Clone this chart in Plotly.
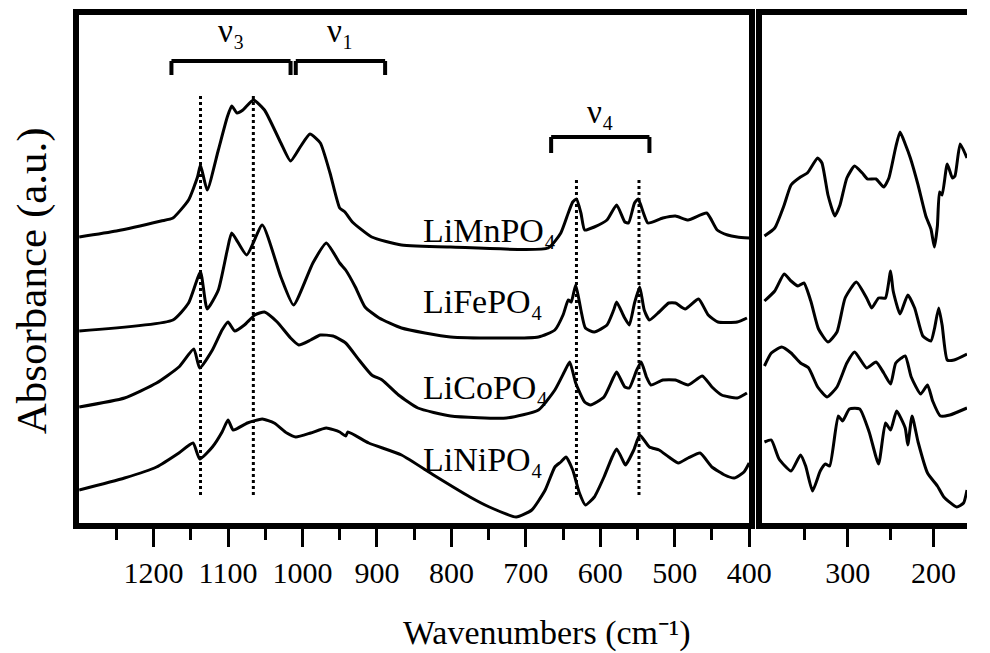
import plotly.graph_objects as go

# ---------------- data ----------------
# Mid-IR panel (1300-400 cm-1)
mn_mid_wn = [1300, 1250, 1190, 1174, 1153, 1141, 1137, 1128, 1113, 1101, 1095, 1088, 1080, 1066, 1051, 1029, 1016, 1003, 990, 976, 963, 950, 943, 933, 907, 867, 801, 670, 653, 643, 637, 632, 626, 621, 608, 591, 578, 567, 562, 554, 549, 542, 536, 516, 499, 482, 457, 443, 429, 416, 400]
mn_mid_ab = [2.86, 2.92, 3.02, 3.05, 3.23, 3.46, 3.58, 3.33, 3.73, 4.06, 4.17, 4.10, 4.13, 4.23, 4.13, 3.80, 3.62, 3.76, 3.89, 3.80, 3.50, 3.15, 3.11, 3.01, 2.86, 2.78, 2.76, 2.75, 2.90, 3.10, 3.21, 3.24, 3.10, 2.93, 2.96, 3.03, 3.18, 3.01, 3.00, 3.20, 3.24, 3.10, 3.00, 3.05, 3.07, 3.03, 3.10, 2.93, 2.88, 2.86, 2.85]

fe_mid_wn = [1300, 1174, 1153, 1137, 1128, 1113, 1101, 1095, 1075, 1054, 1029, 1012, 986, 968, 950, 942, 929, 916, 897, 867, 801, 683, 661, 650, 643, 639, 633, 626, 620, 608, 591, 582, 578, 568, 561, 554, 547, 541, 534, 521, 508, 499, 486, 468, 455, 442, 416, 403]
fe_mid_ab = [1.92, 2.03, 2.20, 2.51, 2.14, 2.33, 2.73, 2.90, 2.68, 2.98, 2.46, 2.18, 2.60, 2.80, 2.60, 2.53, 2.36, 2.16, 2.05, 1.95, 1.86, 1.86, 1.93, 2.08, 2.23, 2.21, 2.38, 2.13, 1.95, 1.91, 1.98, 2.13, 2.21, 2.06, 1.98, 2.20, 2.36, 2.13, 2.03, 2.11, 2.20, 2.20, 2.14, 2.24, 2.08, 2.01, 2.01, 2.05]

co_mid_wn = [1300, 1239, 1196, 1166, 1146, 1138, 1121, 1108, 1100, 1091, 1078, 1064, 1051, 1034, 1016, 1005, 989, 976, 959, 942, 924, 907, 893, 871, 845, 801, 726, 683, 661, 647, 641, 633, 621, 613, 595, 582, 578, 567, 561, 551, 545, 538, 532, 516, 499, 482, 463, 450, 437, 416, 403]
co_mid_ab = [1.16, 1.25, 1.40, 1.56, 1.74, 1.55, 1.73, 1.93, 2.01, 1.92, 1.98, 2.08, 2.11, 2.01, 1.85, 1.78, 1.83, 1.88, 1.87, 1.80, 1.63, 1.48, 1.43, 1.28, 1.15, 1.07, 1.05, 1.13, 1.33, 1.53, 1.61, 1.40, 1.21, 1.18, 1.26, 1.46, 1.51, 1.36, 1.35, 1.53, 1.61, 1.46, 1.38, 1.43, 1.43, 1.38, 1.47, 1.36, 1.28, 1.25, 1.30]

ni_mid_wn = [1300, 1239, 1196, 1166, 1147, 1138, 1121, 1108, 1100, 1093, 1074, 1054, 1038, 1021, 1009, 989, 968, 950, 942, 939, 911, 867, 824, 775, 749, 713, 692, 674, 661, 653, 646, 637, 628, 620, 608, 595, 584, 578, 568, 566, 555, 547, 534, 521, 508, 495, 482, 466, 450, 433, 420, 407, 400]
ni_mid_ab = [0.33, 0.45, 0.56, 0.70, 0.80, 0.64, 0.76, 0.91, 1.03, 0.93, 1.00, 1.04, 1.00, 0.90, 0.86, 0.90, 0.95, 0.91, 0.87, 0.91, 0.80, 0.68, 0.48, 0.26, 0.16, 0.06, 0.13, 0.33, 0.56, 0.61, 0.66, 0.53, 0.30, 0.18, 0.26, 0.46, 0.66, 0.74, 0.60, 0.58, 0.73, 0.88, 0.76, 0.73, 0.66, 0.60, 0.65, 0.70, 0.56, 0.48, 0.45, 0.51, 0.60]

# Far-IR panel (400-160 cm-1)
mn_far_wn = [397, 385, 374, 366, 355, 347, 335, 330, 323, 315, 309, 301, 292, 283, 277, 267, 258, 252, 244, 239, 233, 227, 218, 209, 203, 199, 195.5, 193, 190, 184, 178, 175, 169, 161]
mn_far_ab = [2.87, 2.95, 3.18, 3.38, 3.46, 3.50, 3.65, 3.60, 3.28, 3.07, 3.18, 3.45, 3.57, 3.50, 3.44, 3.44, 3.36, 3.45, 3.76, 3.91, 3.79, 3.65, 3.38, 3.07, 2.94, 2.76, 2.97, 3.31, 3.28, 3.59, 3.45, 3.47, 3.79, 3.65]

fe_far_wn = [397, 385, 374, 366, 358, 351, 343, 334, 323, 312.5, 303, 290, 278, 272, 264, 256, 250, 247, 239, 230, 222, 212.5, 203, 199, 194, 190, 184, 176, 161]
fe_far_ab = [2.22, 2.32, 2.49, 2.42, 2.37, 2.40, 2.22, 1.94, 1.81, 1.91, 2.25, 2.41, 2.25, 2.15, 2.25, 2.25, 2.52, 2.32, 2.09, 2.28, 2.15, 1.87, 1.82, 1.94, 2.15, 1.98, 1.63, 1.63, 1.69]

co_far_wn = [397, 389, 377, 366, 355, 345.5, 335, 324, 312.5, 301, 292, 278, 267, 258, 250, 244, 233, 226, 215, 207, 201, 192, 181, 161]
co_far_ab = [1.57, 1.70, 1.76, 1.70, 1.60, 1.55, 1.36, 1.26, 1.36, 1.60, 1.71, 1.55, 1.61, 1.50, 1.39, 1.60, 1.67, 1.46, 1.29, 1.38, 1.22, 1.07, 1.08, 1.15]

ni_far_wn = [397, 389, 380, 366, 355, 349, 341, 332, 326, 321, 311, 306, 298, 286, 275, 264, 256, 250, 243, 233, 230, 225, 218, 207, 195.5, 188, 173, 165, 161]
ni_far_ab = [0.81, 0.83, 0.64, 0.52, 0.68, 0.57, 0.32, 0.52, 0.59, 0.57, 1.07, 1.02, 1.14, 1.14, 0.91, 0.59, 1.00, 0.93, 1.12, 0.95, 0.78, 1.07, 0.81, 0.50, 0.37, 0.26, 0.16, 0.20, 0.33]

sample_names = ["LiMnPO₄", "LiFePO₄", "LiCoPO₄", "LiNiPO₄"]
label_levels = [2.93, 2.22, 1.36, 0.64]

mid_major = [1200, 1100, 1000, 900, 800, 700, 600, 500, 400]
mid_minor = [1250, 1150, 1050, 950, 850, 750, 650, 550, 450]
far_major = [300, 200]
far_minor = [350, 250]

# band marker lines: (wavenumber, top, bottom)
band_lines = [(1137, 4.30, 0.28), (1066, 4.30, 0.28), (632, 3.46, 0.28), (548, 3.46, 0.28)]
# brackets: (label, start, end, top, tip, label bottom)
brackets = [("ν₃", 1176, 1016, 4.62, 4.48, 4.72),
            ("ν₁", 1009, 889, 4.62, 4.48, 4.72),
            ("ν₄", 666, 534, 3.86, 3.70, 3.91)]

# ---------------- figure ----------------
FONT = "Times New Roman"
W, H = 990, 653
fig = go.Figure()

mids = [(mn_mid_wn, mn_mid_ab), (fe_mid_wn, fe_mid_ab), (co_mid_wn, co_mid_ab), (ni_mid_wn, ni_mid_ab)]
fars = [(mn_far_wn, mn_far_ab), (fe_far_wn, fe_far_ab), (co_far_wn, co_far_ab), (ni_far_wn, ni_far_ab)]
for (wx, ay) in mids:
    fig.add_trace(go.Scatter(x=wx, y=ay, mode="lines", xaxis="x", yaxis="y",
                             line=dict(color="black", width=3, shape="spline", smoothing=0.5),
                             showlegend=False))
for (wx, ay) in fars:
    fig.add_trace(go.Scatter(x=wx, y=ay, mode="lines", xaxis="x2", yaxis="y2",
                             line=dict(color="black", width=3, shape="spline", smoothing=0.5),
                             showlegend=False))

ydom = [(H - 523) / H, (H - 15) / H]
yr = [0, 5.08]

fig.update_layout(
    width=W, height=H, margin=dict(l=0, r=0, t=0, b=0),
    paper_bgcolor="white", plot_bgcolor="white",
    xaxis=dict(domain=[81 / W, 767 / W], range=[1300, 400], showgrid=False, zeroline=False,
               showline=True, linewidth=6, linecolor="black", mirror=True,
               ticks="outside", ticklen=18, tickwidth=3, tickcolor="black",
               tickvals=mid_major, ticktext=[str(v) for v in mid_major],
               tickfont=dict(size=30, family=FONT, color="black"),
               minor=dict(tickvals=mid_minor, ticks="outside", ticklen=11, tickwidth=3, tickcolor="black"),
               anchor="y"),
    yaxis=dict(domain=ydom, range=yr, showgrid=False, zeroline=False, showticklabels=False,
               showline=True, linewidth=6, linecolor="black", mirror=True, ticks="", anchor="x"),
    xaxis2=dict(domain=[780 / W, 1.0], range=[400, 161], showgrid=False, zeroline=False,
                showline=True, linewidth=6, linecolor="black", mirror=True,
                ticks="outside", ticklen=18, tickwidth=3, tickcolor="black",
                tickvals=far_major, ticktext=[str(v) for v in far_major],
                tickfont=dict(size=30, family=FONT, color="black"),
                minor=dict(tickvals=far_minor, ticks="outside", ticklen=11, tickwidth=3, tickcolor="black"),
                anchor="y2"),
    yaxis2=dict(domain=ydom, range=yr, showgrid=False, zeroline=False, showticklabels=False,
                showline=True, linewidth=6, linecolor="black", mirror=False, ticks="", anchor="x2"),
)

# band marker dotted lines
for (wn, top, bot) in band_lines:
    fig.add_shape(type="line", xref="x", yref="y", x0=wn, x1=wn, y0=bot, y1=top,
                  line=dict(color="black", width=3, dash="dot"))

# brackets with labels
for (lab, a, b, top, tip, ly) in brackets:
    for (xa, ya, xb, yb) in [(a, tip, a, top), (a, top, b, top), (b, top, b, tip)]:
        fig.add_shape(type="line", xref="x", yref="y", x0=xa, y0=ya, x1=xb, y1=yb,
                      line=dict(color="black", width=4))
    fig.add_annotation(x=(a + b) / 2, y=ly, xref="x", yref="y", text=lab, showarrow=False,
                       xanchor="center", yanchor="bottom", font=dict(size=33, family=FONT, color="black"))

# sample labels
for name, lv in zip(sample_names, label_levels):
    fig.add_annotation(x=841, y=lv, xref="x", yref="y", text=name, showarrow=False,
                       xanchor="left", yanchor="middle", font=dict(size=34, family=FONT, color="black"))

# axis titles
fig.add_annotation(x=560 / W, y=1 - 633 / H, xref="paper", yref="paper",
                   text="Wavenumbers (cm⁻¹)", showarrow=False,
                   xanchor="center", yanchor="middle", font=dict(size=34, family=FONT, color="black"))
fig.add_annotation(x=33 / W, y=1 - 281 / H, xref="paper", yref="paper",
                   text="Absorbance (a.u.)", showarrow=False, textangle=-90,
                   xanchor="center", yanchor="middle", font=dict(size=43, family=FONT, color="black"))

fig.write_html("out.html", config={"responsive": False, "staticPlot": True})
